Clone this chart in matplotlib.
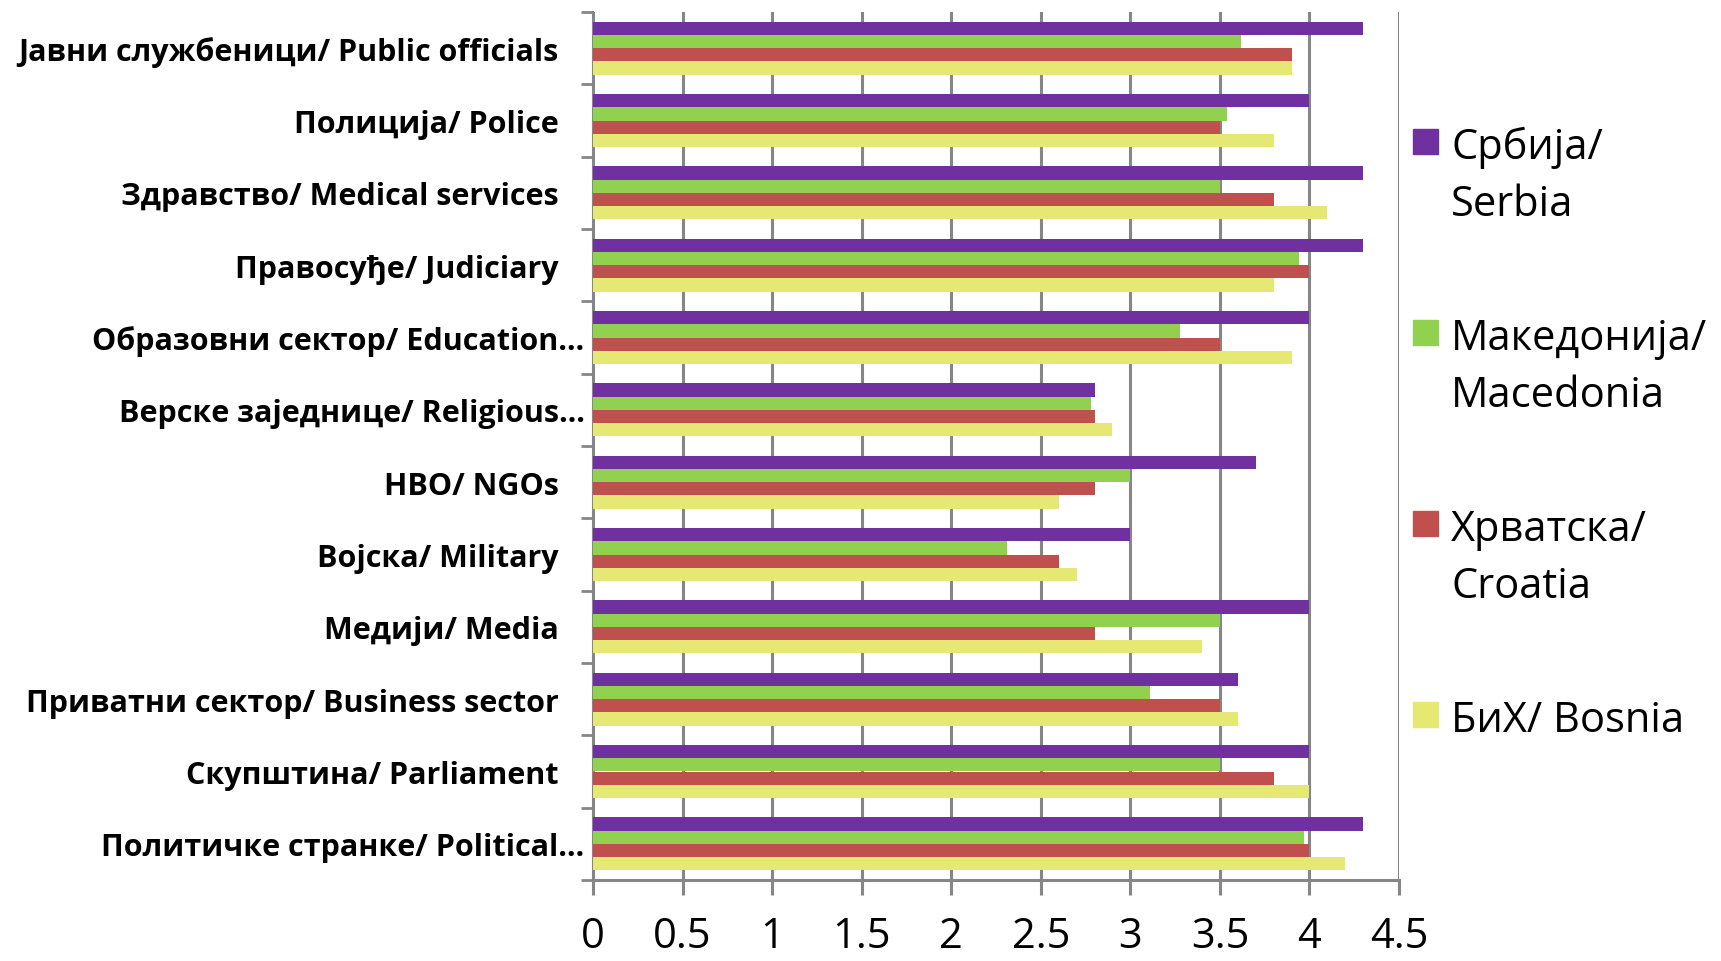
import numpy as np
import matplotlib
matplotlib.use('Agg')
import matplotlib.pyplot as plt
from matplotlib.patches import Rectangle
from matplotlib.ticker import MultipleLocator, FixedLocator, FormatStrFormatter
import matplotlib.transforms as mtransforms

plt.rcParams['font.family'] = ['Open Sans', 'DejaVu Sans']

categories = [
    'Јавни службеници/ Public officials',
    'Полиција/ Police',
    'Здравство/ Medical services',
    'Правосуђе/ Judiciary',
    'Образовни сектор/ Education…',
    'Верске заједнице/ Religious…',
    'НВО/ NGOs',
    'Војска/ Military',
    'Медији/ Media',
    'Приватни сектор/ Business sector',
    'Скупштина/ Parliament',
    'Политичке странке/ Political…',
]
truncated = [False, False, False, False, True, True, False, False, False, False, False, True]

serbia    = [4.3, 4.0, 4.3, 4.3, 4.0, 2.8, 3.7, 3.0, 4.0, 3.6, 4.0, 4.3]
macedonia = [3.62, 3.54, 3.5, 3.94, 3.28, 2.78, 3.0, 2.31, 3.5, 3.11, 3.5, 3.97]
croatia   = [3.9, 3.5, 3.8, 4.0, 3.5, 2.8, 2.8, 2.6, 2.8, 3.5, 3.8, 4.0]
bosnia    = [3.9, 3.8, 4.1, 3.8, 3.9, 2.9, 2.6, 2.7, 3.4, 3.6, 4.0, 4.2]

series_labels = ['Србија/\nSerbia', 'Македонија/\nMacedonia', 'Хрватска/\nCroatia', 'БиХ/ Bosnia']
colors = ['#7030A0', '#92D050', '#C0504D', '#E5E873']

W, H = 1721, 962
fig = plt.figure(figsize=(W / 100, H / 100), dpi=100)
ax = fig.add_axes([593 / W, 1 - 881 / H, (1399 - 593) / W, (881 - 13) / H])

grid_c = '#868686'
h = 0.184
y = np.arange(len(categories))
for k, (vals, col) in enumerate(zip([serbia, macedonia, croatia, bosnia], colors)):
    ax.barh(y + (k - 1.5) * h, vals, height=h, color=col, zorder=3)

ax.set_xlim(0, 4.5)
ax.set_ylim(len(categories) - 0.5, -0.5)

ax.xaxis.set_major_locator(MultipleLocator(0.5))
ax.xaxis.set_major_formatter(FormatStrFormatter('%g'))
ax.grid(axis='x', color=grid_c, linewidth=2.2, zorder=0)
ax.tick_params(axis='x', direction='out', length=11, width=2.2, color=grid_c,
               labelsize=30, pad=14)

# category ticks at group boundaries, labels at group centres
ax.yaxis.set_major_locator(FixedLocator(np.arange(len(categories) + 1) - 0.5))
ax.yaxis.set_minor_locator(FixedLocator(y))
ax.yaxis.set_major_formatter(plt.NullFormatter())
ax.set_yticks(y, categories, minor=True)
ax.tick_params(axis='y', which='major', direction='out', length=9, width=2.0, color=grid_c)
ax.tick_params(axis='y', which='minor', length=0, pad=6, labelsize=22)
for lab, tr in zip(ax.get_yticklabels(minor=True), truncated):
    lab.set_fontweight('bold')
    if not tr:
        lab.set_transform(lab.get_transform() +
                          mtransforms.ScaledTranslation(-0.26, 0, fig.dpi_scale_trans))

for side in ['top', 'right']:
    ax.spines[side].set_visible(False)
ax.spines['left'].set_color(grid_c)
ax.spines['left'].set_linewidth(1.5)
ax.spines['bottom'].set_color(grid_c)
ax.spines['bottom'].set_linewidth(2.2)

# legend on the right, marker next to the first text line
for k, (lbl, col) in enumerate(zip(series_labels, colors)):
    y0 = 143 + k * 191
    fig.patches.append(Rectangle((1413 / W, 1 - (y0 + 12) / H), 25 / W, 25 / H,
                                 transform=fig.transFigure, color=col))
    for j, line in enumerate(lbl.split('\n')):
        fig.text(1451 / W, 1 - (y0 + j * 57) / H, line, fontsize=30,
                 va='center_baseline', ha='left')

fig.savefig('out.png', dpi=100)
